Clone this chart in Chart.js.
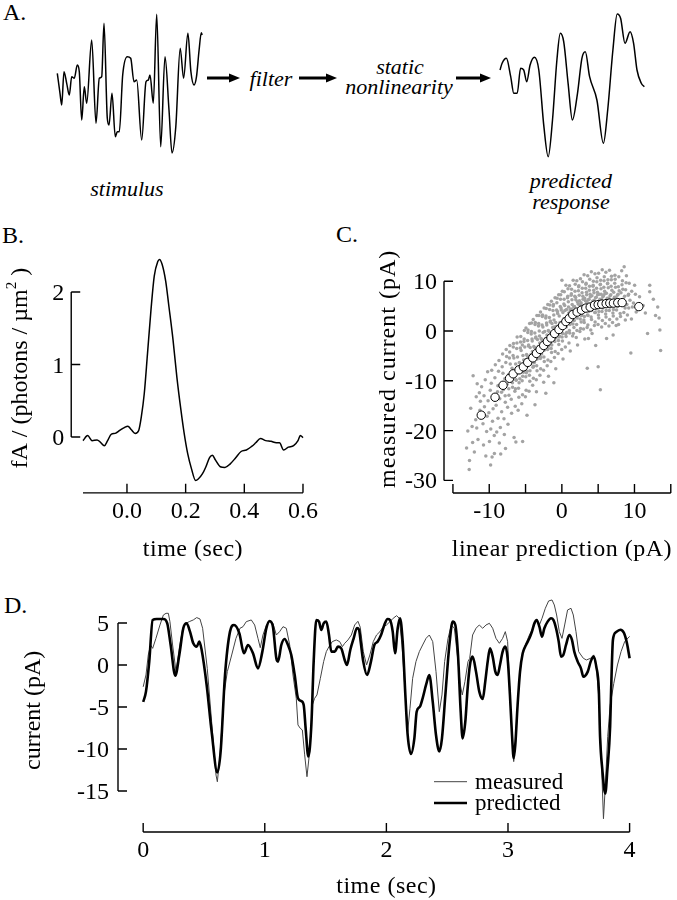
<!DOCTYPE html>
<html>
<head>
<meta charset="utf-8">
<title>LN model figure</title>
<script src="https://cdn.jsdelivr.net/npm/chart.js@4.4.1/dist/chart.umd.min.js"></script>
<style>
  html, body { margin: 0; padding: 0; background: #fff; }
  body { position: relative; width: 677px; height: 900px; overflow: hidden;
         font-family: "Liberation Serif", "Times New Roman", serif; color: #000; }
  canvas, .txt, svg { position: absolute; }
  .txt { white-space: nowrap; font-size: 24px; line-height: 24px; }
  .it { font-style: italic; font-size: 22px; line-height: 22px; width: 200px; text-align: center; }
</style>
</head>
<body>
<div class="txt" style="left:3px;top:0px">A.</div>
<div class="txt" style="left:2px;top:223px">B.</div>
<div class="txt" style="left:336px;top:222px">C.</div>
<div class="txt" style="left:4px;top:593px">D.</div>

<div class="txt it" style="left:171px;top:68px">filter</div>
<div class="txt it" style="left:300px;top:56px">static</div>
<div class="txt it" style="left:299px;top:76px">nonlinearity</div>
<div class="txt it" style="left:27px;top:178px">stimulus</div>
<div class="txt it" style="left:471px;top:170px">predicted</div>
<div class="txt it" style="left:471px;top:191px">response</div>

<svg width="677" height="120" style="left:0;top:0">
  <g stroke="#000" stroke-width="3">
    <line x1="207" y1="78" x2="231" y2="78"/>
    <line x1="299" y1="78" x2="328" y2="78"/>
    <line x1="456" y1="78" x2="482" y2="78"/>
  </g>
  <g fill="#000">
    <polygon points="229,73.5 240,78 229,82.5"/>
    <polygon points="326,73.5 337,78 326,82.5"/>
    <polygon points="480,73.5 491,78 480,82.5"/>
  </g>
</svg>

<canvas id="stim" width="150" height="150" style="left:55px;top:10px"></canvas>
<canvas id="resp" width="150" height="150" style="left:498px;top:10px"></canvas>
<canvas id="filt" width="340" height="350" style="left:0px;top:220px"></canvas>
<canvas id="nonlin" width="337" height="350" style="left:340px;top:220px"></canvas>
<canvas id="trace" width="677" height="320" style="left:0px;top:580px"></canvas>

<script>
const FONT = '"Liberation Serif", "Times New Roman", serif';

// A: stimulus and predicted response sketches (arbitrary units)
const stimTime = [0.3,3,4.7,7,9.7,12.3,14.7,17.3,20.3,22.3,24.7,27.3,29.7,34.7,39,42.3,44.7,47,50.3,52,55,58.3,60.3,62.3,65.7,70.3,73.7,77,79.7,84.7,89,91.3,93,96.3,99.7,103.7,108,112,115,118.8,123.2,126.6,130.9,133.9,137,139.5,142.1,144.3,145.1];
const stimAmp = [10.7,-9.3,-21,12.3,0.7,-11,7.3,5.7,19,12.3,-36,-2.7,-19.3,44,-39.3,5.7,7.3,60.7,-34.3,-41,-9.3,-52.7,-47.7,-47.7,9,27.3,25.7,2.3,4,-56,2.3,4,9,-19.3,69.7,-62.7,27.3,-26,-69,-42.7,35.7,5.7,50.7,12.3,-1,7.3,34,51.3,49];
const respTime = [0,2.1,6.4,10.7,13.8,17.2,20.6,23.7,26.7,30.1,34.4,38.8,43.9,48.2,52.5,56.9,60.3,63.7,68.1,72.4,77.5,81.9,85.3,89.6,96.9,103.4,107.7,112.9,117.2,120.6,125,130.1,133.6,137,141.3,144.3];
const respAmp = [15,21.7,26.7,8.3,-8.3,-8.3,16.7,15,3.3,20,27.7,15,-41.7,-71.7,-35,25,51.7,43.3,1.7,-35,-8.3,26.7,33.3,8.3,-15,-58.3,-25,35,71,66.7,41.7,53.3,41.7,15,1.7,-1.7];

// B: linear filter
const filtTime = [-0.15,-0.134,-0.119,-0.102,-0.091,-0.077,-0.066,-0.053,-0.04,-0.025,-0.009,0.003,0.015,0.028,0.04,0.049,0.059,0.07,0.082,0.093,0.105,0.111,0.12,0.132,0.143,0.157,0.17,0.184,0.195,0.207,0.22,0.234,0.243,0.257,0.268,0.282,0.291,0.302,0.318,0.334,0.352,0.37,0.389,0.407,0.425,0.439,0.455,0.473,0.491,0.509,0.52,0.534,0.55,0.568,0.583,0.591,0.6];
const filtAmp = [-0.05,0.02,-0.05,-0.04,-0.07,-0.12,-0.05,0.04,0.05,0.09,0.13,0.15,0.10,0.05,0.09,0.28,0.60,1.15,1.76,2.22,2.42,2.45,2.38,2.15,1.80,1.34,0.83,0.37,0.05,-0.23,-0.44,-0.60,-0.58,-0.51,-0.42,-0.28,-0.25,-0.32,-0.41,-0.42,-0.37,-0.29,-0.20,-0.18,-0.13,-0.08,-0.02,-0.05,-0.06,-0.08,-0.08,-0.18,-0.14,-0.12,-0.05,0.02,-0.01];
const filtTicksX = [0, 0.2, 0.4, 0.6];
const filtLabelsX = ['0.0', '0.2', '0.4', '0.6'];
const filtTicksY = [0, 1, 2];
const filtLabelsY = ['0', '1', '2'];

// C: static nonlinearity, binned means and raw points
const binX = [-11.1,-9.2,-8.1,-7.2,-6.7,-5.9,-5.3,-4.7,-4.0,-3.5,-3.0,-2.5,-2.0,-1.5,-1.0,-0.4,0.1,0.55,1.0,1.5,2.1,2.7,3.3,3.9,4.5,5.0,5.5,6.1,6.6,7.1,7.7,8.3,10.6];
const binY = [-16.9,-13.3,-10.9,-9.5,-8.6,-7.8,-7.2,-6.3,-5.4,-4.5,-3.7,-2.9,-2.1,-1.4,-0.5,0.3,1.1,1.9,2.5,3.3,3.8,4.2,4.6,4.8,5.2,5.3,5.4,5.5,5.6,5.6,5.7,5.7,4.9];
const cloud = [
  [-13.12,-23.5],[-12.76,-27.8],[-12.95,-20.1],
  [-12.72,-26.0],[-12.36,-19.2],[-12.55,-15.5],[-12.29,-22.4],
  [-12.22,-9.0],[-11.86,-17.8],[-12.05,-24.3],[-11.79,-13.2],
  [-11.72,-19.5],[-11.36,-12.4],[-11.55,-21.8],[-11.29,-15.9],[-11.66,-10.6],
  [-11.22,-14.1],[-10.86,-18.6],[-11.05,-11.2],[-10.79,-22.9],[-11.16,-16.7],
  [-10.72,-13.0],[-10.36,-20.2],[-10.55,-9.8],[-10.29,-17.1],[-10.66,-15.2],[-10.47,-25.1],
  [-10.22,-8.2],[-9.86,-11.9],[-10.05,-16.4],[-9.79,-19.7],[-10.16,-14.0],[-9.97,-22.2],[-9.81,-26.9],
  [-9.72,-10.5],[-9.36,-13.8],[-9.55,-18.1],[-9.29,-24.6],[-9.66,-7.9],[-9.47,-15.6],[-9.31,-21.0],[-9.61,-25.3],
  [-9.22,-9.4],[-8.86,-12.2],[-9.05,-14.9],[-8.79,-17.5],[-9.16,-6.8],[-8.97,-20.3],[-8.81,-11.0],
  [-8.72,-8.1],[-8.36,-10.9],[-8.55,-13.6],[-8.29,-16.2],[-8.66,-5.9],[-8.47,-19.4],[-8.31,-12.3],[-8.61,-22.5],[-8.42,-24.7],
  [-8.22,-7.2],[-7.86,-9.6],[-8.05,-11.8],[-7.79,-14.3],[-8.16,-4.6],[-7.97,-17.6],[-7.81,-13.0],[-8.11,-8.5],[-7.92,-20.8],[-7.76,-23.6],
  [-7.72,-6.3],[-7.36,-8.8],[-7.55,-10.7],[-7.29,-12.9],[-7.66,-3.7],[-7.47,-15.3],[-7.31,-11.6],[-7.61,-5.1],[-7.42,-18.7],[-7.26,-9.7],
  [-7.22,-5.4],[-6.86,-7.5],[-7.05,-9.2],[-6.79,-11.3],[-7.16,-2.9],[-6.97,-13.7],[-6.81,-10.4],[-7.11,-6.6],[-6.92,-16.5],[-6.76,-8.3],[-7.19,-4.2],
  [-6.72,-4.9],[-6.36,-6.6],[-6.55,-9.0],[-6.29,-9.9],[-6.66,-2.5],[-6.47,-12.1],[-6.31,-9.8],[-6.61,-5.4],[-6.42,-15.1],[-6.26,-7.5],[-6.69,-3.2],[-6.39,-11.6],[-6.33,-22.3],[-6.58,-21.4],
  [-6.22,-3.5],[-5.86,-6.3],[-6.05,-7.4],[-5.79,-9.6],[-6.16,-1.2],[-5.97,-11.5],[-5.81,-8.1],[-6.11,-5.2],[-5.92,-13.3],[-5.76,-7.1],[-6.19,-2.4],[-5.89,-10.4],[-6.02,-15.9],
  [-5.72,-3.4],[-5.36,-4.9],[-5.55,-7.2],[-5.29,-8.3],[-5.66,-1.1],[-5.47,-10.0],[-5.31,-7.9],[-5.61,-3.9],[-5.42,-12.8],[-5.26,-5.8],[-5.69,-2.2],[-5.39,-9.1],[-5.52,-14.6],[-5.44,-2.8],[-5.40,-22.2],
  [-5.22,-2.1],[-4.86,-4.7],[-5.05,-5.8],[-4.79,-8.1],[-5.16,0.1],[-4.97,-9.2],[-4.81,-7.1],[-5.11,-3.2],[-4.92,-11.9],[-4.76,-5.0],[-5.19,-1.6],[-4.89,-8.4],[-5.02,-13.2],[-4.94,0.6],[-4.80,-16.9],
  [-4.72,-1.9],[-4.36,-3.3],[-4.55,-5.5],[-4.29,-6.6],[-4.66,0.2],[-4.47,-8.9],[-4.31,-5.6],[-4.61,-3.0],[-4.42,-10.1],[-4.26,-4.7],[-4.69,-0.3],[-4.39,-8.0],[-4.52,-12.1],[-4.44,1.5],[-4.58,-2.8],
  [-4.22,-0.6],[-3.86,-3.1],[-4.05,-4.1],[-3.79,-6.3],[-4.16,1.6],[-3.97,-7.3],[-3.81,-5.4],[-4.11,-1.6],[-3.92,-9.5],[-3.76,-3.3],[-4.19,-0.1],[-3.89,-7.1],[-4.02,-10.9],[-3.94,2.3],[-4.08,-2.0],[-3.70,-14.8],
  [-3.72,-0.4],[-3.36,-1.7],[-3.55,-3.8],[-3.29,-4.8],[-3.66,1.7],[-3.47,-7.0],[-3.31,-3.9],[-3.61,-1.4],[-3.42,-8.0],[-3.26,-3.1],[-3.69,1.3],[-3.39,-5.6],[-3.52,-9.8],[-3.44,3.1],[-3.58,-1.2],[-3.50,-12.2],
  [-3.22,1.0],[-2.86,-1.5],[-3.05,-2.4],[-2.79,-4.6],[-3.16,3.1],[-2.97,-5.5],[-2.81,-3.7],[-3.11,0.0],[-2.92,-7.6],[-2.76,-1.7],[-3.19,1.5],[-2.89,-5.3],[-3.02,-8.9],[-2.94,3.8],[-3.08,-1.0],[-2.84,-3.6],
  [-2.72,1.2],[-2.36,-0.1],[-2.55,-2.2],[-2.29,-3.1],[-2.66,3.2],[-2.47,-5.2],[-2.31,-2.3],[-2.61,0.8],[-2.42,-6.1],[-2.26,-1.5],[-2.69,2.9],[-2.39,-3.8],[-2.52,-7.9],[-2.44,4.6],[-2.58,-0.3],[-2.50,-10.3],[-2.21,-12.5],
  [-2.22,2.6],[-1.86,0.1],[-2.05,-0.8],[-1.79,-2.9],[-2.16,4.5],[-1.97,-3.7],[-1.81,-2.1],[-2.11,1.6],[-1.92,-5.8],[-1.76,-0.1],[-2.19,3.0],[-1.89,-3.5],[-2.02,-7.0],[-1.94,5.3],[-2.08,1.2],[-1.84,-9.1],
  [-1.72,2.7],[-1.36,1.5],[-1.55,-0.6],[-1.29,-1.5],[-1.66,5.2],[-1.47,-3.5],[-1.31,-0.7],[-1.61,1.8],[-1.42,-4.3],[-1.26,0.7],[-1.69,4.3],[-1.39,-2.8],[-1.52,-6.1],[-1.44,6.0],[-1.58,2.0],[-1.34,-0.9],
  [-1.22,4.1],[-0.86,1.7],[-1.05,0.8],[-0.79,-1.3],[-1.16,5.3],[-0.97,-2.1],[-0.81,-0.5],[-1.11,3.2],[-0.92,-4.1],[-0.76,0.9],[-1.19,5.0],[-0.89,-1.4],[-1.02,-5.3],[-0.94,6.7],[-1.08,2.2],[-0.84,-7.6],[-1.10,-10.4],
  [-0.72,4.2],[-0.36,3.0],[-0.55,1.0],[-0.29,0.1],[-0.66,6.6],[-0.47,-1.9],[-0.31,0.3],[-0.61,3.9],[-0.42,-2.7],[-0.26,1.7],[-0.69,5.7],[-0.39,-1.2],[-0.52,-4.5],[-0.44,7.3],[-0.58,3.5],[-0.34,-1.0],
  [-0.22,4.9],[0.14,3.7],[-0.05,1.7],[0.21,0.8],[-0.16,7.3],[0.03,-1.2],[0.19,1.0],[-0.11,4.6],[0.08,-2.0],[0.24,2.4],[-0.19,6.4],[0.11,-0.5],[-0.02,-3.7],[0.06,8.0],[-0.08,4.2],[0.16,-5.6],[0.01,10.2],
  [0.28,5.4],[0.64,4.3],[0.45,2.2],[0.71,1.5],[0.34,7.9],[0.53,-0.6],[0.69,2.4],[0.39,5.1],[0.58,-1.1],[0.74,3.0],[0.31,6.4],[0.61,0.8],[0.48,-3.2],[0.56,9.2],[0.42,4.1],[0.66,-0.3],
  [0.78,6.7],[1.14,4.2],[0.95,3.6],[1.21,1.6],[0.84,8.5],[1.03,0.1],[1.19,2.9],[0.89,5.9],[1.08,-0.4],[1.24,4.4],[0.81,7.0],[1.11,1.3],[0.98,-2.4],[1.06,9.1],[0.92,4.8],[1.16,-4.0],
  [1.28,7.2],[1.64,4.8],[1.45,4.2],[1.71,2.1],[1.34,8.4],[1.53,1.4],[1.69,3.0],[1.39,6.3],[1.58,-0.5],[1.74,4.9],[1.31,7.5],[1.61,2.2],[1.48,-1.0],[1.56,10.2],[1.42,5.3],[1.66,0.7],
  [1.78,7.0],[2.14,5.9],[1.95,4.1],[2.21,3.3],[1.84,9.4],[2.03,1.3],[2.19,3.9],[1.89,6.8],[2.08,0.1],[2.24,5.4],[1.81,8.0],[2.11,2.6],[1.98,-1.3],[2.06,10.1],[1.92,6.3],[2.16,-2.8],
  [2.28,8.1],[2.64,5.7],[2.45,5.2],[2.71,3.1],[2.34,9.1],[2.53,2.4],[2.69,4.4],[2.39,7.2],[2.58,0.5],[2.74,5.2],[2.31,8.9],[2.61,3.2],[2.48,-0.1],[2.56,10.5],[2.42,6.1],[2.66,1.8],
  [2.78,7.7],[3.14,6.6],[2.95,4.8],[3.21,4.3],[2.84,9.9],[3.03,2.2],[3.19,4.9],[2.89,7.0],[3.08,1.7],[3.24,6.1],[2.81,8.6],[3.11,2.9],[2.98,0.4],[3.06,11.3],[2.92,6.4],[3.16,-1.6],
  [3.28,8.6],[3.64,6.3],[3.45,5.8],[3.71,3.9],[3.34,9.6],[3.53,3.2],[3.69,4.5],[3.39,7.8],[3.58,1.2],[3.74,6.4],[3.31,9.4],[3.61,3.1],[3.48,0.7],[3.56,11.1],[3.42,7.3],[3.66,-1.5],[3.50,-7.5],
  [3.78,8.2],[4.14,7.1],[3.95,5.4],[4.21,4.9],[3.84,10.4],[4.03,2.8],[4.19,5.3],[3.89,7.4],[4.08,2.3],[4.24,6.0],[3.81,9.0],[4.11,4.1],[3.98,0.2],[4.06,11.9],[3.92,6.9],[4.16,-0.5],
  [4.28,9.0],[4.64,6.7],[4.45,6.2],[4.71,4.4],[4.34,10.0],[4.53,3.7],[4.69,4.9],[4.39,8.2],[4.58,1.8],[4.74,6.8],[4.31,9.2],[4.61,3.7],[4.48,1.1],[4.56,11.5],[4.42,7.7],[4.66,-2.9],
  [4.78,8.6],[5.14,7.4],[4.95,5.7],[5.21,5.2],[4.84,10.7],[5.03,3.2],[5.19,5.7],[4.89,7.8],[5.08,2.6],[5.24,6.4],[4.81,9.9],[5.11,3.9],[4.98,1.3],[5.06,11.6],[4.92,7.3],[5.00,-7.2],[5.30,-11.8],
  [5.28,9.3],[5.64,6.9],[5.45,6.4],[5.71,4.7],[5.34,10.2],[5.53,3.9],[5.69,5.2],[5.39,8.5],[5.58,2.1],[5.74,7.1],[5.31,9.4],[5.61,4.6],[5.48,0.8],[5.56,12.3],[5.42,7.4],
  [5.78,8.8],[6.14,7.6],[5.95,5.9],[6.21,5.4],[5.84,10.9],[6.03,3.4],[6.19,5.9],[5.89,8.0],[6.08,2.8],[6.24,6.6],[5.81,10.1],[6.11,4.1],[5.98,1.5],[6.06,11.8],[5.92,7.5],[6.16,-1.5],
  [6.28,9.5],[6.64,7.1],[6.45,6.6],[6.71,4.9],[6.34,10.3],[6.53,4.1],[6.69,5.4],[6.39,8.7],[6.58,2.3],[6.74,7.3],[6.31,9.6],[6.61,4.8],[6.48,1.0],[6.56,12.2],
  [6.78,9.0],[7.14,7.8],[6.95,6.1],[7.21,5.6],[6.84,11.0],[7.03,3.6],[7.19,6.1],[6.89,8.2],[7.08,3.0],[7.24,6.8],[6.81,10.3],[7.11,4.3],[6.98,1.7],[7.06,-0.8],
  [7.28,9.6],[7.64,7.2],[7.45,6.7],[7.71,5.0],[7.34,10.4],[7.53,4.2],[7.69,5.5],[7.39,8.8],[7.58,2.4],[7.74,7.4],[7.31,11.2],[7.61,4.9],[7.48,1.1],
  [7.78,8.9],[8.14,7.7],[7.95,6.0],[8.21,5.5],[7.84,10.9],[8.03,3.5],[8.19,6.0],[7.89,8.1],[8.08,2.9],[8.24,12.1],[7.81,1.3],
  [8.28,9.3],[8.64,7.0],[8.45,6.4],[8.71,4.6],[8.34,10.1],[8.53,3.7],[8.69,5.2],[8.39,8.4],[8.58,12.9],[8.74,2.2],
  [8.78,8.3],[9.14,7.2],[8.95,5.3],[9.21,4.6],[8.84,9.7],[9.03,3.2],[9.19,7.4],[8.89,11.1],
  [9.62,8.0],[9.38,6.2],[9.71,4.8],[9.5,-4.4],[9.27,9.6],[9.58,2.4],[10.13,7.4],[9.86,5.6],[10.24,3.8],[10.02,9.2],
  [10.7,6.9],[11.2,5.1],[11.5,3.6],[12.1,9.2],[12.1,7.9],[12.6,6.4],[13.4,2.6],[13.5,0.2],[13.6,-3.9],[13.2,4.8],[11.8,-0.5],[12.9,3.1]
];
const nlTicksX = [-15, -10, -5, 0, 5, 10, 15];
const nlLabelsX = ['', '-10', '', '0', '', '10', ''];
const nlTicksY = [10, 0, -10, -20, -30];
const nlLabelsY = ['10', '0', '-10', '-20', '-30'];

// D: measured vs predicted current
const measTime = [0,0.023,0.042,0.061,0.078,0.105,0.138,0.166,0.188,0.207,0.22,0.242,0.27,0.297,0.325,0.352,0.379,0.412,0.44,0.467,0.489,0.527,0.563,0.599,0.61,0.632,0.664,0.692,0.728,0.763,0.796,0.821,0.848,0.889,0.917,0.944,0.963,0.985,1.013,1.04,1.067,1.095,1.122,1.15,1.177,1.205,1.232,1.259,1.273,1.292,1.309,1.328,1.347,1.369,1.391,1.41,1.429,1.457,1.484,1.506,1.528,1.555,1.588,1.616,1.638,1.657,1.684,1.712,1.739,1.766,1.785,1.81,1.837,1.864,1.892,1.919,1.947,1.974,2.001,2.029,2.056,2.084,2.106,2.128,2.156,2.175,2.194,2.216,2.243,2.271,2.298,2.326,2.353,2.381,2.408,2.435,2.457,2.479,2.507,2.534,2.559,2.589,2.608,2.624,2.646,2.671,2.685,2.709,2.737,2.764,2.792,2.819,2.847,2.874,2.901,2.929,2.956,2.978,2.997,3.016,3.033,3.047,3.06,3.079,3.099,3.121,3.148,3.176,3.197,3.217,3.236,3.258,3.28,3.307,3.334,3.362,3.381,3.4,3.422,3.444,3.466,3.49,3.518,3.537,3.559,3.581,3.6,3.62,3.645,3.68,3.705,3.728,3.75,3.767,3.785,3.8,3.82,3.84,3.87,3.9,3.93,3.96,4.0];
const measCurrent = [-2.6,-1.19,1.19,2.38,1.98,3.17,4.76,5.95,6.15,6.15,5.16,2.38,-0.79,1.98,4.37,4.96,5.16,5.36,5.64,5.48,4.37,-0.4,-6.75,-13.1,-13.9,-10.7,-3.57,-0.79,1.19,3.17,4.37,4.56,5.16,5.36,4.76,3.17,2.06,3.57,4.76,5.16,4.96,3.57,3.97,4.56,4.37,2.38,-1.19,-3.97,-7.14,-7.54,-7.74,-10.7,-13.3,-10.3,-4.76,-3.97,-3.57,-1.59,0.4,1.59,2.18,2.78,2.98,2.78,2.18,2.58,2.98,3.57,4.76,5.2,4.5,1.59,0.0,1.19,2.78,3.57,3.97,4.56,4.76,5.16,5.56,5.87,5.56,2.38,-3.57,-7.94,-5.16,-1.59,0.4,1.59,2.38,3.17,3.57,2.78,-0.79,-5.56,-3.57,0.4,3.17,4.76,4.37,0.4,-2.38,-3.57,-1.98,0.4,0.79,3.57,4.37,4.76,4.37,4.76,4.96,4.37,3.17,2.58,3.17,3.97,2.78,-3.57,-8.73,-11.5,-9.52,-4.76,-0.79,1.59,2.58,3.57,4.17,4.76,5.36,4.76,5.56,6.75,7.62,7.74,7.14,5.95,3.97,3.17,4.76,6.55,6.75,5.95,3.97,1.59,1.19,0.79,0.6,0.8,1.2,-0.5,-4.5,-11,-18.3,-14.5,-8.5,-4.8,-2.2,0.0,1.6,2.8,3.4];
const predTime = [0,0.023,0.05,0.078,0.111,0.166,0.198,0.226,0.264,0.297,0.33,0.357,0.385,0.412,0.44,0.462,0.481,0.522,0.563,0.61,0.637,0.673,0.714,0.747,0.791,0.829,0.862,0.903,0.944,0.98,1.013,1.04,1.067,1.095,1.109,1.136,1.163,1.191,1.218,1.246,1.273,1.3,1.32,1.336,1.358,1.383,1.402,1.424,1.446,1.465,1.484,1.506,1.528,1.547,1.575,1.602,1.629,1.657,1.676,1.703,1.731,1.758,1.775,1.79,1.81,1.841,1.873,1.901,1.928,1.956,1.983,2.01,2.03,2.052,2.071,2.093,2.112,2.134,2.156,2.175,2.202,2.23,2.249,2.276,2.298,2.326,2.353,2.381,2.408,2.435,2.457,2.485,2.518,2.545,2.567,2.589,2.611,2.627,2.649,2.668,2.687,2.709,2.737,2.764,2.792,2.813,2.833,2.852,2.874,2.896,2.915,2.934,2.956,2.978,2.997,3.016,3.033,3.047,3.06,3.079,3.099,3.121,3.148,3.176,3.197,3.217,3.236,3.258,3.28,3.299,3.326,3.354,3.373,3.395,3.417,3.436,3.455,3.477,3.504,3.526,3.545,3.573,3.6,3.62,3.656,3.68,3.705,3.726,3.747,3.757,3.776,3.8,3.817,3.84,3.848,3.863,3.887,3.924,3.954,3.978,4.0];
const predCurrent = [-4.4,-3.17,0.4,5.36,5.48,5.48,4.96,2.38,-1.27,1.19,4.37,4.96,3.97,2.58,2.18,2.78,1.79,-2.38,-7.94,-12.8,-10.3,-1.19,3.97,4.76,3.77,1.39,2.38,1.39,-0.4,1.59,4.37,5.24,4.56,0.79,0.4,2.38,3.1,2.38,1.19,-1.19,-3.97,-4.29,-4.76,-7.54,-10.9,-7.14,0.4,5.36,5.16,4.17,4.96,5.16,3.57,1.59,1.59,2.18,1.98,0.6,0.0,1.79,3.17,4.4,4.2,2.6,0.4,-1.19,0.4,2.38,2.78,3.57,4.76,5.48,5.36,3.97,1.39,4.37,5.56,2.78,-3.57,-8.33,-10.6,-8.73,-5.56,-4.96,-3.97,-2.38,-1.19,-4.37,-8.33,-10.3,-8.73,-3.57,2.38,5.16,4.76,1.19,-5.56,-8.73,-6.75,-2.78,0.0,0.99,-0.79,-3.17,-4.05,-1.98,0.4,1.98,0.99,-0.79,-1.19,0.0,1.59,2.18,0.79,-3.57,-8.33,-11.1,-9.52,-4.76,-0.79,1.39,2.38,3.17,3.97,4.96,5.36,4.56,3.37,4.37,5.16,5.56,5.36,4.37,2.78,0.99,1.19,2.38,3.57,2.98,1.59,0.4,-0.4,-1.39,-0.79,0.4,0.99,-0.2,-3.0,-8.5,-12.5,-15.3,-12.5,-7.3,-3.0,3.0,3.9,4.2,3.8,2.6,0.8];
const trTicksX = [0, 1, 2, 3, 4];
const trLabelsX = ['0', '1', '2', '3', '4'];
const trTicksY = [5, 0, -5, -10, -15];
const trLabelsY = ['5', '0', '-5', '-10', '-15'];

const xy = (xs, ys) => xs.map((x, i) => ({ x: x, y: ys[i] }));

// detached axes in the old journal style, ticks pointing inward
function frameAxes(cfg) {
  return {
    id: 'frameAxes',
    afterDatasetsDraw(chart) {
      const ctx = chart.ctx;
      const sx = chart.scales.x, sy = chart.scales.y;
      const px = v => sx.getPixelForValue(v);
      const py = v => sy.getPixelForValue(v);
      ctx.save();
      ctx.strokeStyle = '#000';
      ctx.fillStyle = '#000';
      ctx.lineWidth = 1.4;

      const ax = px(cfg.yAt), ay = py(cfg.xAt);
      ctx.beginPath();
      ctx.moveTo(ax, py(cfg.ySpan[0]));
      ctx.lineTo(ax, py(cfg.ySpan[1]));
      cfg.yTicks.forEach(v => { ctx.moveTo(ax, py(v)); ctx.lineTo(ax + 9, py(v)); });
      ctx.moveTo(px(cfg.xSpan[0]), ay);
      ctx.lineTo(px(cfg.xSpan[1]), ay);
      cfg.xTicks.forEach(v => { ctx.moveTo(px(v), ay); ctx.lineTo(px(v), ay - 9); });
      ctx.stroke();

      ctx.font = '24px ' + FONT;
      ctx.textAlign = 'right';
      cfg.yTicks.forEach((v, i) => ctx.fillText(cfg.yLabels[i], ax - cfg.yGap, py(v) + 8));
      ctx.textAlign = 'center';
      cfg.xTicks.forEach((v, i) => ctx.fillText(cfg.xLabels[i], px(v), ay + 25));
      ctx.letterSpacing = '0.5px';
      ctx.fillText(cfg.xTitle, px(cfg.xTitleAt), ay + cfg.xTitleGap);
      ctx.letterSpacing = '0px';

      if (cfg.legend) {
        ctx.font = '23px ' + FONT;
        ctx.textAlign = 'left';
        cfg.legend.rows.forEach(r => {
          const ds = chart.data.datasets[r[0]];
          ctx.save();
          ctx.strokeStyle = ds.borderColor;
          ctx.lineWidth = ds.borderWidth;
          ctx.beginPath();
          ctx.moveTo(cfg.legend.x0, r[1]);
          ctx.lineTo(cfg.legend.x1, r[1]);
          ctx.stroke();
          ctx.restore();
          ctx.fillText(ds.label, cfg.legend.tx, r[1] + 7);
        });
      }

      // rotated y title, parts may be superscript
      ctx.translate(cfg.yTitleX, py(cfg.yTitleAt));
      ctx.rotate(-Math.PI / 2);
      ctx.textAlign = 'left';
      ctx.letterSpacing = cfg.yTitleSpacing || '0px';
      const fontOf = p => (p[1] ? '15px ' : '24px ') + FONT;
      let total = 0;
      cfg.yTitle.forEach(p => { ctx.font = fontOf(p); total += ctx.measureText(p[0]).width; });
      let cx = -total / 2;
      cfg.yTitle.forEach(p => {
        ctx.font = fontOf(p);
        ctx.fillText(p[0], cx, p[1] ? -11 : 0);
        cx += ctx.measureText(p[0]).width;
      });
      ctx.restore();
    }
  };
}

function baseOptions(pad, xr, yr) {
  return {
    responsive: false,
    animation: false,
    devicePixelRatio: 1,
    layout: { padding: pad },
    plugins: { legend: { display: false }, tooltip: { enabled: false } },
    elements: { point: { radius: 0 } },
    scales: {
      x: { type: 'linear', display: false, min: xr[0], max: xr[1] },
      y: { type: 'linear', display: false, min: yr[0], max: yr[1] }
    }
  };
}

// A
new Chart(document.getElementById('stim'), {
  type: 'line',
  data: { datasets: [{ data: xy(stimTime, stimAmp), borderColor: '#000', borderWidth: 1.5,
    cubicInterpolationMode: 'monotone', clip: false }] },
  options: baseOptions(0, [-2, 148], [-76, 74])
});
new Chart(document.getElementById('resp'), {
  type: 'line',
  data: { datasets: [{ data: xy(respTime, respAmp), borderColor: '#000', borderWidth: 1.5,
    cubicInterpolationMode: 'monotone', clip: false }] },
  options: baseOptions(0, [-2, 148], [-75, 75])
});

// B
new Chart(document.getElementById('filt'), {
  type: 'line',
  data: { datasets: [{ data: xy(filtTime, filtAmp), borderColor: '#000', borderWidth: 1.5,
    cubicInterpolationMode: 'monotone', clip: false }] },
  options: baseOptions({ left: 68, right: 31, top: 28, bottom: 75 }, [-0.201, 0.6205], [-0.8, 2.607]),
  plugins: [frameAxes({
    yAt: -0.19, ySpan: [0, 2], yTicks: filtTicksY, yLabels: filtLabelsY, yGap: 7,
    xAt: -0.77, xSpan: [-0.15, 0.6], xTicks: filtTicksX, xLabels: filtLabelsX,
    xTitle: 'time (sec)', xTitleAt: 0.225, xTitleGap: 63,
    yTitle: [['fA / (photons / µm', false], ['2', true], [' )', false]], yTitleX: 27, yTitleAt: 0.95
  })]
});

// C
new Chart(document.getElementById('nonlin'), {
  type: 'scatter',
  data: { datasets: [
    { data: xy(binX, binY), pointRadius: 4.2, pointBackgroundColor: '#fff',
      pointBorderColor: '#000', pointBorderWidth: 1, order: 0, clip: false },
    { data: cloud.map(p => ({ x: p[0], y: p[1] })), pointRadius: 1.75,
      pointBackgroundColor: '#a3a3a3', pointBorderWidth: 0, order: 1, clip: false }
  ] },
  options: baseOptions({ left: 104, right: 3, top: 40, bottom: 77 }, [-16.23, 15.14], [-32.53, 14.26]),
  plugins: [frameAxes({
    yAt: -16.23, ySpan: [-30, 10], yTicks: nlTicksY, yLabels: nlLabelsY, yGap: 7,
    xAt: -32.53, xSpan: [-15, 15], xTicks: nlTicksX, xLabels: nlLabelsX,
    xTitle: 'linear prediction (pA)', xTitleAt: 0, xTitleGap: 63,
    yTitle: [['measured current (pA)', false]], yTitleX: 55, yTitleAt: -7.6, yTitleSpacing: '1px'
  })]
});

// D
new Chart(document.getElementById('trace'), {
  type: 'line',
  data: { datasets: [
    { label: 'predicted', data: xy(predTime, predCurrent), borderColor: '#000', borderWidth: 2.6,
      cubicInterpolationMode: 'monotone', order: 0, clip: false },
    { label: 'measured', data: xy(measTime, measCurrent), borderColor: '#444', borderWidth: 1,
      tension: 0, order: 1, clip: false }
  ] },
  options: baseOptions({ left: 118, right: 37, top: 15, bottom: 68 }, [-0.207, 4.0855], [-19.88, 8.33]),
  plugins: [frameAxes({
    yAt: -0.207, ySpan: [-15, 5], yTicks: trTicksY, yLabels: trLabelsY, yGap: 9,
    xAt: -19.88, xSpan: [0, 4], xTicks: trTicksX, xLabels: trLabelsX,
    xTitle: 'time (sec)', xTitleAt: 2, xTitleGap: 61,
    yTitle: [['current (pA)', false]], yTitleX: 40, yTitleAt: -5.4,
    legend: { x0: 434, x1: 467, tx: 475, rows: [[1, 201.7], [0, 223]] }
  })]
});
</script>
</body>
</html>
